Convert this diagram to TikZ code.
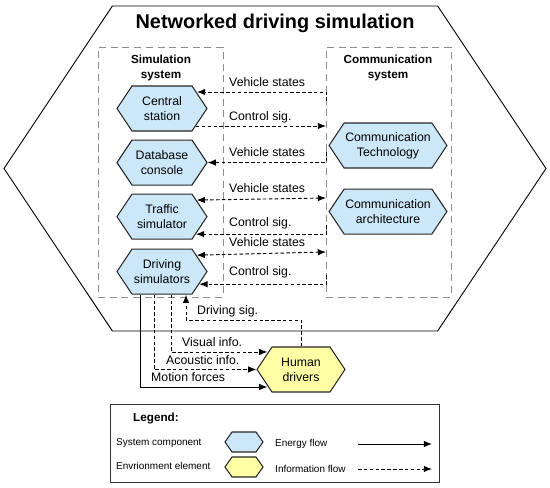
\documentclass[tikz,border=0pt]{standalone}
\usepackage{fontspec}
\setmainfont{Liberation Sans}
\usetikzlibrary{positioning,arrows.meta,calc,shapes.symbols}
\definecolor{compblue}{RGB}{204,232,248}
\definecolor{envyellow}{RGB}{255,255,166}
\definecolor{boxgray}{RGB}{140,140,140}

\begin{document}
\begin{tikzpicture}[x=0.03cm,y=-0.03cm,font=\fontsize{10.5}{12.8}\selectfont,
  >={Latex[length=7pt,width=5.5pt]},
  hex/.style={draw=black!85,line width=0.9pt,signal,signal to=west and east,signal pointer angle=112.6,align=center,inner sep=1pt},
  comp/.style={hex,fill=compblue,minimum width=2.7cm,minimum height=1.35cm},
  env/.style={hex,fill=envyellow,minimum width=2.64cm,minimum height=1.35cm},
  sysbox/.style={draw=boxgray,dash pattern=on 6pt off 4pt,line width=0.8pt,minimum width=3.75cm,minimum height=7.5cm},
  info/.style={line width=0.8pt,dash pattern=on 3pt off 2pt},
  energy/.style={line width=0.7pt},
  lbl/.style={anchor=base west,inner sep=0pt},
  legtext/.style={anchor=west,inner sep=0pt,font=\fontsize{8.5}{10}\selectfont}]
  \useasboundingbox (0,0) rectangle (550,488);

  % outer hexagon and title
  \node[hex,draw=black,line width=0.8pt,minimum width=16.26cm,minimum height=9.75cm] (net) at (275,168.5) {};
  \node[font=\fontsize{17}{20}\selectfont\bfseries] (title) at (275,23) {Networked driving simulation};

  % the two subsystems
  \node[sysbox] (simbox) at (160.5,172) {};
  \node[sysbox] (commbox) at (388.5,172) {};
  \node[font=\bfseries,align=center] (simlabel) at (161,68) {Simulation\\system};
  \node[font=\bfseries,align=center] (commlabel) at (388,68) {Communication\\system};

  \node[comp] (cs) at (162,108.5) {Central\\station};
  \node[comp] (db) [below=0.24cm of cs] {Database\\console};
  \node[comp] (ts) [below=0.24cm of db] {Traffic\\simulator};
  \node[comp] (ds) [below=0.27cm of ts] {Driving\\simulators};
  \node[comp,minimum width=3.36cm] (ct) at (388,145.5) {Communication\\Technology};
  \node[comp,minimum width=3.36cm] (ca) [below=0.6cm of ct] {Communication\\architecture};
  \node[env] (hd) at (301,369.5) {Human\\drivers};

  % signals between simulation and communication
  \coordinate (vs1) at (326,101);
  \coordinate (cs1) at (326,126);
  \coordinate (vs2) at (326,152);
  \coordinate (vs3) at (326,198);
  \coordinate (cs2) at (326,225);
  \coordinate (vs4) at (326,252);
  \coordinate (cs3) at (326,275);
  \draw[info,->] (vs1) |- ($(cs.east)+(-10.7,-16.5)$);
  \draw[info,->] ($(cs.east)+(-11.7,17.5)$) -- (cs1);
  \draw[info,->] (vs2) |- (db.east);
  \draw[info,<->] ($(ts.east)+(-11,-16.5)$) -- (vs3);
  \draw[info,->] (cs2) |- ($(ts.east)+(-11.7,17.5)$);
  \draw[info,<->] ($(ds.east)+(-11,-16.5)$) -- (vs4);
  \draw[info,->] (cs3) |- ($(ds.east)+(-8.3,12.5)$);
  \node[lbl] (lvs1) at (229,87) {Vehicle states};
  \node[lbl] (lcs1) at (229,121) {Control sig.};
  \node[lbl] (lvs2) at (229,156.5) {Vehicle states};
  \node[lbl] (lvs3) at (229,193) {Vehicle states};
  \node[lbl] (lcs2) at (229,227) {Control sig.};
  \node[lbl] (lvs4) at (229,247) {Vehicle states};
  \node[lbl] (lcs3) at (229,276) {Control sig.};

  % driver loop
  \coordinate (dsig) at (186,320);
  \draw[energy,->] ($(ds.south)+(-22,0)$) |- ($(hd.west)+(11,17.5)$);
  \draw[info,->] ($(ds.south)+(-8,0)$) |- (hd.west);
  \draw[info,->] ($(ds.south)+(9,0)$) |- ($(hd.west)+(11,-17.5)$);
  \draw[info,->] (hd.north) |- (dsig) -- ($(ds.south)+(24,0)$);
  \node[lbl] (ldsig) at (197,315) {Driving sig.};
  \node[lbl] (lvis) at (182,346.5) {Visual info.};
  \node[lbl] (lacu) at (166,364.5) {Acoustic info.};
  \node[lbl] (lmot) at (151,382) {Motion forces};

  % legend
  \node[draw=black!80,line width=0.8pt,minimum width=9.87cm,minimum height=2.34cm] (legend) at (274.5,443) {};
  \node[font=\bfseries,anchor=west,inner sep=0pt] (legtitle) at (133,418) {Legend:};
  \node[legtext] (lsc) at (116,443) {System component};
  \node[legtext] (lee) at (116,466) {Envrionment element};
  \node[hex,fill=compblue,signal pointer angle=110,minimum width=1.14cm,minimum height=0.6cm] (legcomp) at (244,442) {};
  \node[hex,fill=envyellow,signal pointer angle=110,minimum width=1.14cm,minimum height=0.6cm] (legenv) at (244,467) {};
  \node[legtext] (lef) at (275,444) {Energy flow};
  \node[legtext] (lif) at (275,469) {Information flow};
  \coordinate (ef1) at (358,444);
  \coordinate (ef2) at (432,444);
  \coordinate (if1) at (358,469);
  \coordinate (if2) at (432,469);
  \draw[energy,->] (ef1) -- (ef2);
  \draw[info,->] (if1) -- (if2);
\end{tikzpicture}
\end{document}
